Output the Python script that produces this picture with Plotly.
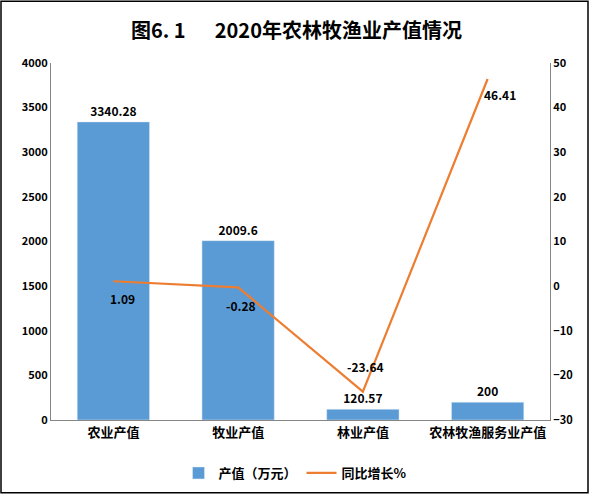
import plotly.graph_objects as go

categories = ["农业产值", "牧业产值", "林业产值", "农林牧渔服务业产值"]
output_values = [3340.28, 2009.6, 120.57, 200]
growth_values = [1.09, -0.28, -23.64, 46.41]
left_ticks = [0, 500, 1000, 1500, 2000, 2500, 3000, 3500, 4000]
right_ticks = [-30, -20, -10, 0, 10, 20, 30, 40, 50]

# label offsets (px) for the growth labels
label_dx = [9, 3, 3, 12]
label_dy = [-17, -18, 25, -15]

W, H = 593, 499
L, R, T, B = 51, 43, 63, 78
pw, ph = W - L - R, H - T - B

FONT = "Noto Sans CJK SC, Noto Sans, sans-serif"

fig = go.Figure()
fig.add_trace(go.Bar(
    x=categories, y=output_values, name="产值（万元）",
    marker=dict(color="#5B9BD5"),
    text=[str(v) for v in output_values], textposition="outside",
    textfont=dict(size=12, color="black", family=FONT, weight="bold"),
    cliponaxis=False,
))
fig.add_trace(go.Scatter(
    x=categories, y=growth_values, name="同比增长%", yaxis="y2",
    mode="lines", line=dict(color="#ED7D31", width=2.2),
    cliponaxis=False,
))

for c, v, dx, dy in zip(categories, growth_values, label_dx, label_dy):
    fig.add_annotation(x=c, y=v, xref="x", yref="y2", text=str(v), showarrow=False,
                       xshift=dx, yshift=dy,
                       font=dict(size=12, color="black", family=FONT, weight="bold"))

def px_x(p):
    return (p - L) / pw

def px_y(p):
    return (H - B - p) / ph

fig.add_shape(type="rect", xref="paper", yref="paper",
              x0=px_x(1), x1=px_x(588), y0=px_y(494), y1=px_y(1),
              line=dict(color="black", width=1.5), layer="below")

fig.update_layout(
    width=W, height=H,
    margin=dict(l=L, r=R, t=T, b=B),
    paper_bgcolor="white", plot_bgcolor="white",
    title=dict(text="图6. 1　  2020年农林牧渔业产值情况", x=0.5, xanchor="center",
               y=1 - 31 / H, yanchor="middle",
               font=dict(size=20, color="black", family=FONT, weight="bold")),
    bargap=0.42,
    showlegend=True,
    legend=dict(orientation="h", x=0.49, xanchor="center", y=px_y(473), yanchor="middle",
                font=dict(size=13, color="black", family=FONT, weight="bold"),
                itemwidth=30, traceorder="normal"),
    xaxis=dict(showline=True, linecolor="#868686", linewidth=1, ticks="",
               tickfont=dict(size=13, color="black", family=FONT, weight="bold"),
               showgrid=False),
    yaxis=dict(range=[0, 4000], tickvals=left_ticks, showline=True, linecolor="#868686",
               linewidth=1, showgrid=False, zeroline=False, ticks="",
               tickfont=dict(size=11, color="black", family=FONT, weight="bold")),
    yaxis2=dict(range=[-30, 50], tickvals=right_ticks, overlaying="y", side="right",
                showline=True, linecolor="#868686", linewidth=1, showgrid=False,
                zeroline=False, ticks="",
                tickfont=dict(size=11, color="black", family=FONT, weight="bold")),
)

fig.write_html("out.html", config={"displayModeBar": False},
               post_script="document.body.style.margin='0';document.body.style.overflow='hidden';")
